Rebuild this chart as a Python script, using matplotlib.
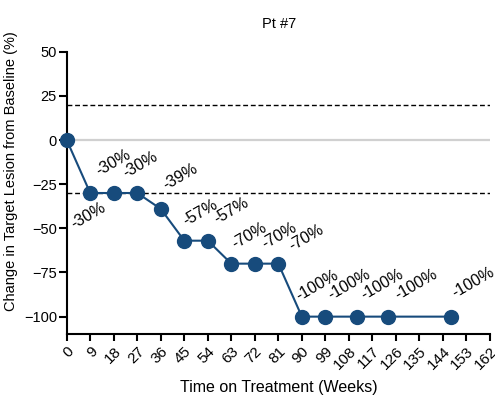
import matplotlib
matplotlib.use("Agg")
from matplotlib import pyplot as plt

weeks = [0, 9, 18, 27, 36, 45, 54, 63, 72, 81, 90, 99, 111, 123, 147]
change = [0, -30, -30, -30, -39, -57, -57, -70, -70, -70, -100, -100, -100, -100, -100]
x_ticks = list(range(0, 163, 9))
y_ticks = [-100, -75, -50, -25, 0, 25, 50]

# label placement (pixels from each point), None = no label
label_offsets = [None, (-16, -36), (-14, 17), (-11, 15), (5, 19), (2, 15), (9, 17),
                 (4, 15), (10, 15), (14, 13), (-3, 16), (6, 17), (8, 17), (10, 17),
                 (4, 19)]

plt.rcParams['font.family'] = ['Liberation Sans', 'DejaVu Sans']
plt.rcParams['font.size'] = 10

fig = plt.figure(figsize=(4.95, 4.0), dpi=100)
# axes box in pixels: x 66.7..490, y 51.7..334.3
ax = fig.add_axes([66.7 / 495, 1 - 334.3 / 400, (490 - 66.7) / 495, (334.3 - 51.7) / 400])

ax.axhline(0, color='#d0d0d0', lw=1.6, zorder=1)
ax.axhline(20, color='black', lw=1.0, ls=(0, (3.5, 2)), zorder=1)
ax.axhline(-30, color='black', lw=1.0, ls=(0, (3.5, 2)), zorder=1)

blue = '#174b7c'
ax.plot(weeks, change, color=blue, lw=1.5, marker='o', markersize=10,
        clip_on=False, zorder=3)

for w, c, off in zip(weeks, change, label_offsets):
    if off is None:
        continue
    ax.annotate(f"{c}%", (w, c), xytext=off, textcoords='offset pixels',
                rotation=30, rotation_mode='anchor', ha='left', va='baseline',
                fontsize=11.5)

ax.set_xlim(0, 162)
ax.set_ylim(-110, 50)
ax.set_xticks(x_ticks)
ax.set_xticklabels([str(t) for t in x_ticks], rotation=45, ha='right',
                   rotation_mode='anchor')
ax.set_yticks(y_ticks)

for s in ['top', 'right']:
    ax.spines[s].set_visible(False)
for s in ['left', 'bottom']:
    ax.spines[s].set_linewidth(1.5)
ax.tick_params(axis='y', width=1.5, length=6, pad=1, labelsize=10.5)
ax.tick_params(axis='x', width=1.5, length=5, pad=2, labelsize=11)

fig.text(279.5 / 495, 1 - 28 / 400, 'Pt #7', ha='center', va='baseline', fontsize=10.5)
ax.set_xlabel('Time on Treatment (Weeks)', fontsize=11.5, labelpad=6)
ax.set_ylabel('Change in Target Lesion from Baseline (%)', fontsize=10.5)
ax.yaxis.set_label_coords((11 - 66.7) / (490 - 66.7), (334.3 - 171) / (334.3 - 51.7))
ax.yaxis.label.set_va('center')

fig.savefig('out.png', dpi=100)
